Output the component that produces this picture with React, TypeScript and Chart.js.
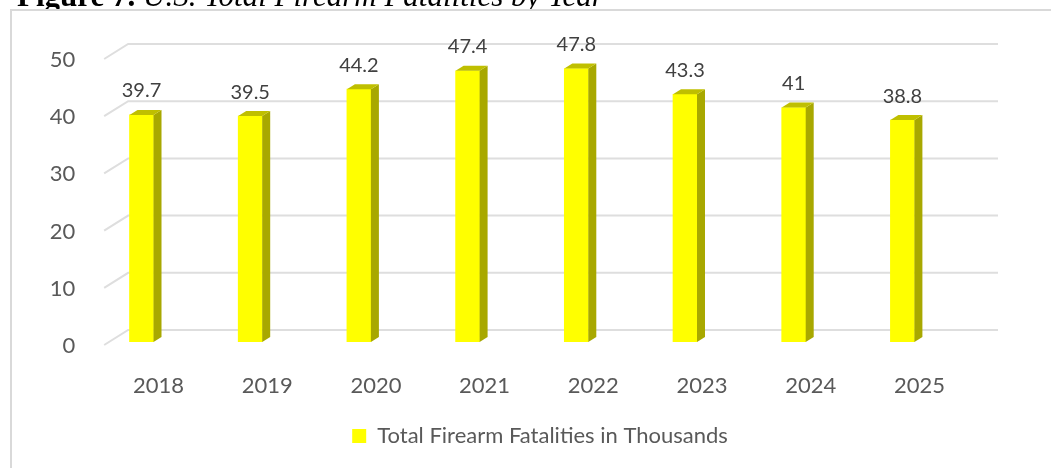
import React, { useEffect, useRef } from "react";
import { Chart, registerables } from "chart.js";

Chart.register(...registerables);

const categories = ["2018", "2019", "2020", "2021", "2022", "2023", "2024", "2025"];
const fatalities = [39.7, 39.5, 44.2, 47.4, 47.8, 43.3, 41, 38.8];
const seriesLabel = "Total Firearm Fatalities in Thousands";
const yTickValues = [0, 10, 20, 30, 40, 50];
const titleBold = "Figure 7.";
const titleItalic = "U.S. Total Firearm Fatalities by Year";

const FONT = "Lato, 'Open Sans', sans-serif";
const TEXT = "#595959";
const GRID = "#dedede";

const threeD = {
  id: "threeD",
  beforeDatasetsDraw(chart: any) {
    const { ctx, chartArea, scales } = chart;
    const ys = scales.y;
    const frontX = chartArea.left + 17;
    const backX = frontX + 24;
    const rightX = 998;
    ctx.save();
    ctx.strokeStyle = GRID;
    ctx.lineWidth = 2;
    yTickValues.forEach((v) => {
      const p = ys.getPixelForValue(v);
      ctx.beginPath();
      ctx.moveTo(frontX, p + 3);
      ctx.lineTo(backX, p - 12);
      ctx.lineTo(rightX, p - 12);
      ctx.stroke();
    });
    ctx.restore();
  },
  afterDatasetsDraw(chart: any) {
    const { ctx } = chart;
    const meta = chart.getDatasetMeta(0);
    const dx = 8;
    const dy = -5;
    ctx.save();
    meta.data.forEach((bar: any, i: number) => {
      const { x, y, base, width } = bar.getProps(["x", "y", "base", "width"], true);
      const l = x - width / 2;
      const r = x + width / 2;
      ctx.fillStyle = "#a8a800";
      ctx.beginPath();
      ctx.moveTo(r, y);
      ctx.lineTo(r + dx, y + dy);
      ctx.lineTo(r + dx, base + dy);
      ctx.lineTo(r, base);
      ctx.closePath();
      ctx.fill();
      ctx.fillStyle = "#bfbf00";
      ctx.beginPath();
      ctx.moveTo(l, y);
      ctx.lineTo(r, y);
      ctx.lineTo(r + dx, y + dy);
      ctx.lineTo(l + dx, y + dy);
      ctx.closePath();
      ctx.fill();
      ctx.fillStyle = "#404040";
      ctx.font = `20px ${FONT}`;
      ctx.textAlign = "center";
      ctx.textBaseline = "middle";
      ctx.fillText(String(fatalities[i]), x, y - 24);
    });
    ctx.restore();
  },
};

export default function App() {
  const ref = useRef<HTMLCanvasElement | null>(null);

  useEffect(() => {
    if (!ref.current) return;
    const chart = new Chart(ref.current, {
      type: "bar",
      data: {
        labels: categories,
        datasets: [
          {
            label: seriesLabel,
            data: fatalities,
            backgroundColor: "#ffff00",
            borderWidth: 0,
            barThickness: 24,
          },
        ],
      },
      options: {
        responsive: false,
        animation: false,
        devicePixelRatio: 1,
        layout: { padding: { left: 29, top: 56, right: 0, bottom: 11 } },
        plugins: {
          legend: {
            position: "bottom",
            labels: {
              boxWidth: 14,
              boxHeight: 14,
              padding: 10,
              color: TEXT,
              font: { family: FONT, size: 22 },
            },
          },
          tooltip: { enabled: false },
        },
        scales: {
          x: {
            grid: { display: false },
            border: { display: false },
            ticks: {
              color: TEXT,
              font: { family: FONT, size: 22 },
              padding: 23,
              labelOffset: 17,
              maxRotation: 0,
              autoSkip: false,
            },
            afterFit: (s: any) => {
              s.height = 73;
            },
          },
          y: {
            min: 0,
            max: 50,
            grid: { display: false },
            border: { display: false },
            ticks: {
              stepSize: 10,
              color: TEXT,
              font: { family: FONT, size: 22 },
              padding: 4,
              labelOffset: 4,
            },
            afterFit: (s: any) => {
              s.width = 58.15;
            },
          },
          yR: {
            position: "right",
            display: true,
            grid: { display: false },
            border: { display: false },
            ticks: { display: false },
            afterFit: (s: any) => {
              s.width = 94.25;
            },
          },
        },
      },
      plugins: [threeD],
    });
    return () => chart.destroy();
  }, []);

  return (
    <div>
      <div
        style={{
          position: "fixed",
          left: 17,
          top: -20,
          fontFamily: "'Liberation Serif', 'Times New Roman', serif",
          fontSize: 31,
          lineHeight: "31px",
          whiteSpace: "nowrap",
          color: "#000",
          zIndex: 0,
        }}
      >
        <b>{titleBold}</b> <i>{titleItalic}</i>
      </div>
      <div
        style={{
          position: "fixed",
          left: 10,
          top: 9,
          width: 1100,
          height: 520,
          background: "#fff",
          borderLeft: "2px solid #d9d9d9",
          borderTop: "2px solid #d9d9d9",
          zIndex: 1,
        }}
      />
      <canvas
        ref={ref}
        width={1051}
        height={468}
        style={{ position: "fixed", left: 0, top: 0, width: 1051, height: 468, zIndex: 2 }}
      />
    </div>
  );
}
